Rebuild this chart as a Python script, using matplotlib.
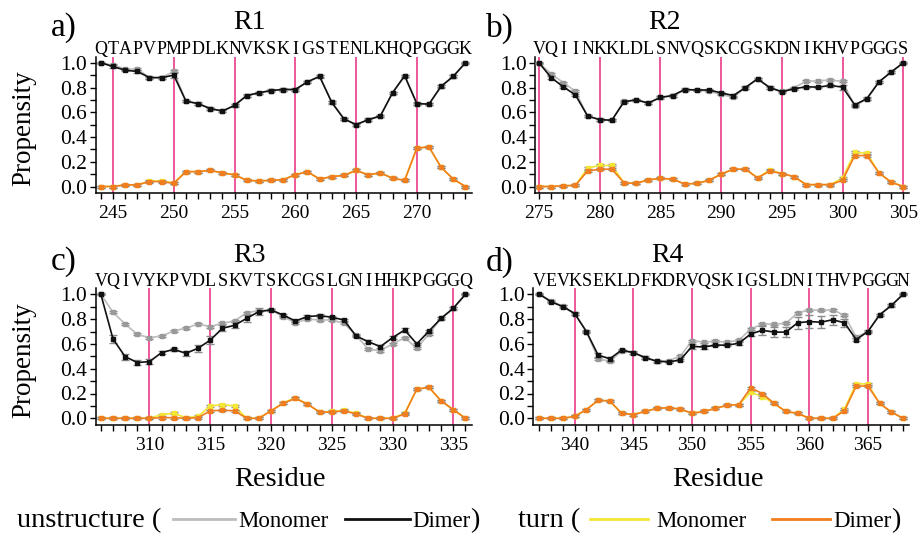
import matplotlib.pyplot as plt
from matplotlib.lines import Line2D
from matplotlib.ticker import MultipleLocator, FormatStrFormatter

plt.rcParams['font.family'] = ['Liberation Serif', 'DejaVu Serif']

# ---- R1 : residues 244-274
r1_first = 244
r1_seq = "QTAPVPMPDLKNVKSKIGSTENLKHQPGGGK"
r1_unst_mono = [1.0, 0.98, 0.95, 0.95, 0.88, 0.88, 0.93, 0.69, 0.67, 0.63, 0.61, 0.655, 0.735, 0.757, 0.776, 0.784,
                0.784, 0.846, 0.89, 0.68, 0.547, 0.50, 0.54, 0.57, 0.757, 0.895, 0.67, 0.666, 0.81, 0.89, 1.0]
r1_unst_dimer = [1.0, 0.97, 0.94, 0.93, 0.88, 0.88, 0.90, 0.69, 0.67, 0.63, 0.61, 0.655, 0.735, 0.757, 0.776, 0.784,
                 0.784, 0.846, 0.89, 0.68, 0.547, 0.50, 0.54, 0.57, 0.757, 0.895, 0.67, 0.666, 0.81, 0.89, 1.0]
r1_turn_mono = [0.0, 0.0, 0.013, 0.013, 0.045, 0.045, 0.03, 0.12, 0.12, 0.13, 0.11, 0.095, 0.05, 0.045, 0.05, 0.055,
                0.095, 0.12, 0.06, 0.08, 0.09, 0.13, 0.095, 0.11, 0.067, 0.05, 0.31, 0.32, 0.155, 0.06, 0.0]
r1_turn_dimer = [0.0, 0.0, 0.013, 0.013, 0.04, 0.04, 0.025, 0.12, 0.12, 0.13, 0.11, 0.095, 0.05, 0.045, 0.05, 0.055,
                 0.095, 0.12, 0.06, 0.08, 0.09, 0.13, 0.095, 0.11, 0.067, 0.05, 0.31, 0.32, 0.155, 0.06, 0.0]
r1_err_dimer = [0.0, 0.01, 0.01, 0.01, 0.01, 0.01, 0.02, 0.01, 0.01, 0.01, 0.01, 0.01, 0.01, 0.01, 0.01, 0.01,
                0.01, 0.01, 0.01, 0.01, 0.01, 0.01, 0.01, 0.01, 0.01, 0.01, 0.01, 0.01, 0.01, 0.01, 0.0]

# ---- R2 : residues 275-305
r2_first = 275
r2_seq = "VQIINKKLDLSNVQSKCGSKDNIKHVPGGGS"
r2_unst_mono = [1.0, 0.91, 0.84, 0.77, 0.57, 0.54, 0.535, 0.69, 0.70, 0.675, 0.72, 0.735, 0.78, 0.78, 0.77, 0.745,
                0.72, 0.80, 0.87, 0.80, 0.77, 0.80, 0.85, 0.855, 0.86, 0.85, 0.65, 0.71, 0.846, 0.925, 1.0]
r2_unst_dimer = [1.0, 0.88, 0.806, 0.74, 0.57, 0.54, 0.536, 0.685, 0.70, 0.675, 0.72, 0.735, 0.784, 0.78, 0.78, 0.757,
                 0.735, 0.80, 0.87, 0.80, 0.765, 0.79, 0.806, 0.803, 0.817, 0.803, 0.66, 0.71, 0.846, 0.925, 1.0]
r2_turn_mono = [0.0, 0.0, 0.005, 0.01, 0.15, 0.17, 0.17, 0.03, 0.025, 0.055, 0.065, 0.06, 0.02, 0.025, 0.05, 0.10,
                0.14, 0.14, 0.07, 0.135, 0.105, 0.08, 0.015, 0.015, 0.015, 0.07, 0.275, 0.27, 0.11, 0.035, 0.0]
r2_turn_dimer = [0.0, 0.0, 0.005, 0.01, 0.125, 0.14, 0.14, 0.03, 0.025, 0.055, 0.065, 0.06, 0.02, 0.025, 0.05, 0.10,
                 0.14, 0.14, 0.07, 0.125, 0.105, 0.08, 0.015, 0.015, 0.015, 0.05, 0.25, 0.25, 0.11, 0.035, 0.0]
r2_err_dimer = [0.0, 0.01, 0.01, 0.01, 0.01, 0.01, 0.01, 0.01, 0.01, 0.01, 0.01, 0.01, 0.01, 0.01, 0.01, 0.01,
                0.01, 0.01, 0.01, 0.01, 0.01, 0.01, 0.01, 0.01, 0.01, 0.02, 0.01, 0.01, 0.01, 0.01, 0.0]

# ---- R3 : residues 306-336
r3_first = 306
r3_seq = "VQIVYKPVDLSKVTSKCGSLGNIHHKPGGGQ"
r3_unst_mono = [1.0, 0.855, 0.76, 0.677, 0.65, 0.664, 0.704, 0.728, 0.76, 0.74, 0.766, 0.785, 0.852, 0.868, 0.874,
                0.82, 0.77, 0.80, 0.793, 0.793, 0.766, 0.67, 0.556, 0.546, 0.60, 0.65, 0.565, 0.68, 0.806, 0.887, 1.0]
r3_unst_dimer = [1.0, 0.64, 0.497, 0.45, 0.457, 0.53, 0.556, 0.524, 0.565, 0.63, 0.726, 0.75, 0.806, 0.86, 0.874,
                 0.833, 0.785, 0.82, 0.828, 0.815, 0.793, 0.664, 0.618, 0.578, 0.65, 0.712, 0.60, 0.704, 0.806, 0.887, 1.0]
r3_turn_mono = [0.0, 0.0, 0.0, 0.0, 0.0, 0.03, 0.04, 0.005, 0.015, 0.10, 0.11, 0.10, 0.0, 0.0, 0.06, 0.125,
                0.165, 0.115, 0.05, 0.055, 0.065, 0.04, 0.0, 0.0, 0.0, 0.04, 0.235, 0.25, 0.14, 0.07, 0.0]
r3_turn_dimer = [0.0, 0.0, 0.0, 0.0, 0.0, 0.005, 0.005, 0.0, 0.005, 0.06, 0.065, 0.06, 0.0, 0.0, 0.06, 0.12,
                 0.16, 0.115, 0.05, 0.05, 0.06, 0.035, 0.0, 0.0, 0.0, 0.035, 0.235, 0.25, 0.14, 0.07, 0.0]
r3_err_dimer = [0.0, 0.03, 0.025, 0.02, 0.02, 0.01, 0.01, 0.02, 0.03, 0.03, 0.025, 0.025, 0.03, 0.03, 0.01,
                0.01, 0.01, 0.01, 0.01, 0.01, 0.01, 0.01, 0.01, 0.01, 0.01, 0.015, 0.01, 0.01, 0.01, 0.01, 0.0]

# ---- R4 : residues 337-368
r4_first = 337
r4_seq = "VEVKSEKLDFKDRVQSKIGSLDNITHVPGGGN"
r4_unst_mono = [1.0, 0.945, 0.905, 0.845, 0.70, 0.48, 0.46, 0.54, 0.53, 0.49, 0.46, 0.465, 0.50, 0.625, 0.615, 0.62,
                0.615, 0.63, 0.72, 0.76, 0.76, 0.765, 0.85, 0.875, 0.87, 0.875, 0.83, 0.655, 0.70, 0.835, 0.91, 1.0]
r4_unst_dimer = [1.0, 0.94, 0.90, 0.845, 0.70, 0.51, 0.48, 0.55, 0.53, 0.49, 0.46, 0.455, 0.47, 0.58, 0.575, 0.59,
                 0.59, 0.605, 0.68, 0.71, 0.695, 0.695, 0.77, 0.78, 0.775, 0.795, 0.77, 0.635, 0.70, 0.835, 0.91, 1.0]
r4_turn_mono = [0.0, 0.0, 0.0, 0.015, 0.07, 0.145, 0.14, 0.04, 0.03, 0.055, 0.08, 0.085, 0.075, 0.04, 0.055, 0.08,
                0.105, 0.11, 0.21, 0.175, 0.12, 0.055, 0.04, 0.0, 0.0, 0.0, 0.075, 0.28, 0.275, 0.12, 0.05, 0.0]
r4_turn_dimer = [0.0, 0.0, 0.0, 0.015, 0.07, 0.145, 0.14, 0.04, 0.03, 0.055, 0.08, 0.085, 0.075, 0.04, 0.055, 0.08,
                 0.105, 0.11, 0.245, 0.2, 0.12, 0.055, 0.04, 0.0, 0.0, 0.0, 0.06, 0.26, 0.26, 0.12, 0.05, 0.0]
r4_err_dimer = [0.0, 0.01, 0.01, 0.01, 0.01, 0.015, 0.015, 0.01, 0.01, 0.01, 0.01, 0.01, 0.01, 0.02, 0.02, 0.01,
                0.01, 0.01, 0.02, 0.035, 0.04, 0.04, 0.05, 0.05, 0.05, 0.04, 0.03, 0.01, 0.01, 0.01, 0.01, 0.0]

GRAY = '#bcbcbc'
BLACK = '#111111'
YELLOW = '#f4e634'
ORANGE = '#f07d1e'
PINK = '#ec4a93'
ERRC = '#8a8a8a'
SMALL_ERR = 0.008

W, H = 921, 533
fig = plt.figure(figsize=(W / 100, H / 100), dpi=100)


def px_axes(left, right, top, bottom):
    return fig.add_axes([left / W, 1 - bottom / H, (right - left) / W, (bottom - top) / H])


def draw_panel(ax, first, seq, unst_mono, unst_dimer, turn_mono, turn_dimer, err_dimer, xlim):
    res = [first + i for i in range(len(seq))]
    for r in res:
        if r % 5 == 0:
            ax.axvline(r, color=PINK, lw=1.3, zorder=1)
    common = dict(lw=1.2, marker='s', markersize=2.2, capsize=3.2, elinewidth=1.0, capthick=1.0, ecolor=ERRC)
    ax.errorbar(res, unst_mono, yerr=SMALL_ERR, color=GRAY, mfc='#999999', mec='#999999', zorder=3, **common)
    ax.errorbar(res, unst_dimer, yerr=err_dimer, color=BLACK, zorder=4, **common)
    ax.errorbar(res, turn_mono, yerr=SMALL_ERR, color=YELLOW, zorder=3, **common)
    ax.errorbar(res, turn_dimer, yerr=SMALL_ERR, color=ORANGE, zorder=4, **common)

    ax.set_xlim(*xlim)
    ax.set_ylim(-0.05, 1.05)
    for s in ['top', 'right']:
        ax.spines[s].set_visible(False)
    for s in ['left', 'bottom']:
        ax.spines[s].set_linewidth(1.1)
    ax.yaxis.set_major_locator(MultipleLocator(0.2))
    ax.yaxis.set_minor_locator(MultipleLocator(0.1))
    ax.yaxis.set_major_formatter(FormatStrFormatter('%.1f'))
    ax.xaxis.set_major_locator(MultipleLocator(5))
    ax.xaxis.set_minor_locator(MultipleLocator(1))
    ax.tick_params(which='both', direction='out', length=4, width=1.0)
    ax.tick_params(axis='y', labelsize=15.5, pad=2)
    ax.tick_params(axis='x', labelsize=14, pad=5)

    # one letter of the sequence above each residue
    for r, letter in zip(res, seq):
        ax.text(r, 1.068, letter, ha='center', va='baseline', fontsize=13, clip_on=False)


ax_a = px_axes(95.5, 471.5, 56.6, 192.7)
ax_b = px_axes(535, 909, 56.6, 192.7)
ax_c = px_axes(95.5, 471.5, 288.1, 424.5)
ax_d = px_axes(533, 909, 288.1, 424.5)

draw_panel(ax_a, r1_first, r1_seq, r1_unst_mono, r1_unst_dimer, r1_turn_mono, r1_turn_dimer, r1_err_dimer,
           (243.56, 274.5))
draw_panel(ax_b, r2_first, r2_seq, r2_unst_mono, r2_unst_dimer, r2_turn_mono, r2_turn_dimer, r2_err_dimer,
           (274.67, 305.47))
draw_panel(ax_c, r3_first, r3_seq, r3_unst_mono, r3_unst_dimer, r3_turn_mono, r3_turn_dimer, r3_err_dimer,
           (305.56, 336.5))
draw_panel(ax_d, r4_first, r4_seq, r4_unst_mono, r4_unst_dimer, r4_turn_mono, r4_turn_dimer, r4_err_dimer,
           (336.45, 368.5))


def ftext(x, y, s, **kw):
    return fig.text(x / W, 1 - y / H, s, **kw)


# panel letters and region titles
for lab, x, y in [('a)', 64, 28), ('b)', 500, 28), ('c)', 64, 262), ('d)', 500, 262)]:
    ftext(x, y, lab, ha='center', va='center', fontsize=24)
for lab, x, y in [('R1', 249, 22), ('R2', 664, 22), ('R3', 249, 256), ('R4', 667, 256)]:
    ftext(x, y, lab, ha='center', va='center', fontsize=20)

for y in [128, 360]:
    ftext(24, y, 'Propensity', ha='center', va='center', rotation=90, fontsize=19.5)
for x in [280, 718]:
    ftext(x, 480, 'Residue', ha='center', va='center', fontsize=20.5)

# legend row at the bottom
base = 527
renderer = fig.canvas.get_renderer()


def legend_group(x_label, label, lines_at, names):
    ftext(x_label, base, label, ha='left', va='baseline', fontsize=20.5)
    for (x0, x1, c), (xname, name) in zip(lines_at, names):
        fig.add_artist(Line2D([x0 / W, x1 / W], [1 - 519 / H, 1 - 519 / H], color=c, lw=2.0,
                              transform=fig.transFigure))
        t = ftext(xname, base, name, ha='left', va='baseline', fontsize=16.5)
    # closing bracket right after the last name
    bb = t.get_window_extent(renderer)
    fig.text(bb.x1 / W, 1 - base / H, ')', ha='left', va='baseline', fontsize=20.5)


legend_group(17, 'unstructure (', [(173, 235, GRAY), (345, 410, BLACK)], [(238, 'Monomer'), (412, 'Dimer')])
legend_group(518, 'turn (', [(590, 648, YELLOW), (772, 830, ORANGE)], [(656, 'Monomer'), (833, 'Dimer')])

fig.savefig('out.png', dpi=100)
